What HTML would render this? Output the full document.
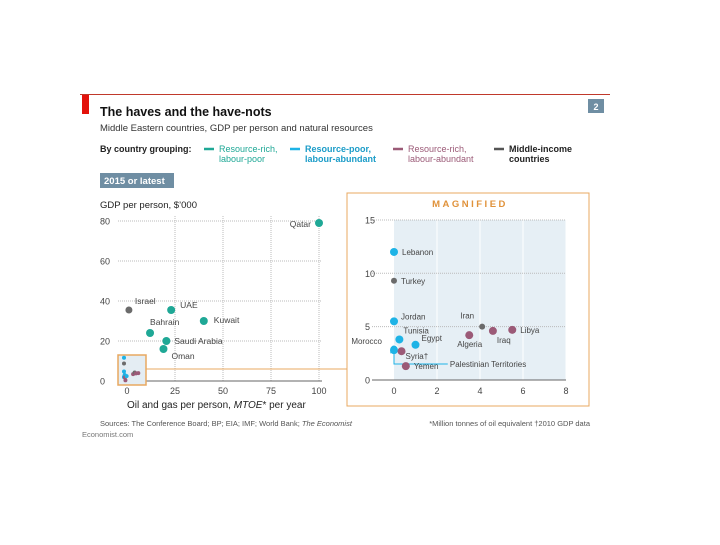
<!DOCTYPE html>
<html><head><meta charset="utf-8"><style>
body{margin:0;background:#fff;width:720px;height:540px;overflow:hidden;font-family:"Liberation Sans",sans-serif}
svg text{font-family:"Liberation Sans",sans-serif}
</style></head><body>
<svg id="c" width="720" height="540">
<line x1="80" y1="94.5" x2="610" y2="94.5" stroke="#c0392b" stroke-width="1"/>
<rect x="82" y="95" width="7" height="19" fill="#e3120b"/>
<text x="100" y="116" font-size="12.5" font-weight="bold" fill="#111">The haves and the have-nots</text>
<rect x="588" y="99" width="16" height="14" fill="#6f8ea3"/>
<text x="596" y="110" font-size="9" fill="#fff" text-anchor="middle" font-weight="bold">2</text>
<text x="100" y="131" font-size="9.5" fill="#333">Middle Eastern countries, GDP per person and natural resources</text>
<g font-size="9">
<text x="100" y="152" font-weight="bold" fill="#222">By country grouping:</text>
<line x1="204" y1="149" x2="214" y2="149" stroke="#1fa896" stroke-width="2.5"/>
<text x="219" y="152" fill="#1fa896"><tspan x="219">Resource-rich,</tspan><tspan x="219" dy="10">labour-poor</tspan></text>
<line x1="290" y1="149" x2="300" y2="149" stroke="#1db3e6" stroke-width="2.5"/>
<text x="305" y="152" fill="#1b9cc8" font-weight="bold"><tspan x="305">Resource-poor,</tspan><tspan x="305" dy="10">labour-abundant</tspan></text>
<line x1="393" y1="149" x2="403" y2="149" stroke="#9b5a77" stroke-width="2.5"/>
<text x="408" y="152" fill="#9b5a77"><tspan x="408">Resource-rich,</tspan><tspan x="408" dy="10">labour-abundant</tspan></text>
<line x1="494" y1="149" x2="504" y2="149" stroke="#555" stroke-width="2.5"/>
<text x="509" y="152" fill="#222" font-weight="bold"><tspan x="509">Middle-income</tspan><tspan x="509" dy="10">countries</tspan></text>
</g>
<rect x="100" y="173" width="74" height="15" fill="#6f8ea3"/>
<text x="104" y="184" font-size="9.5" fill="#fff" font-weight="bold">2015 or latest</text>
<text x="100" y="208" font-size="9.5" fill="#222">GDP per person, $’000</text>
<text x="127" y="408" font-size="10" fill="#222">Oil and gas per person, <tspan font-style="italic">MTOE</tspan>* per year</text>
<rect x="347" y="193" width="242" height="213" fill="none" stroke="#e8a860" stroke-width="1"/>
<text x="470" y="207" font-size="9.5" fill="#e0923a" text-anchor="middle" letter-spacing="2.5" font-weight="bold">MAGNIFIED</text>
<g id="main"></g>
<g id="mag"></g>
<text x="100" y="426" font-size="7.5" fill="#555">Sources: The Conference Board; BP; EIA; IMF; World Bank; <tspan font-style="italic">The Economist</tspan></text>
<text x="590" y="426" font-size="7.5" fill="#555" text-anchor="end">*Million tonnes of oil equivalent   †2010 GDP data</text>
<text x="82" y="437" font-size="7.5" fill="#777">Economist.com</text>
</svg>
<script>
const C={rp:'#1fa896',pa:'#1db3e6',ra:'#9b5a77',mi:'#6b6b6b'};
const mainNames=['Qatar','UAE','Israel','Kuwait','Bahrain','Saudi Arabia','Oman'];
const mainX=[100,23,1,40,12,20.5,19];
const mainY=[79,35.5,35.5,30,24,20,16];
const mainGroup=['rp','rp','mi','rp','rp','rp','rp'];
const mainXTicks=[0,25,50,75,100];
const mainYTicks=[0,20,40,60,80];
const magNames=['Lebanon','Turkey','Jordan','Tunisia','Morocco','Palestinian Territories','Syria†','Egypt','Yemen','Algeria','Iran','Iraq','Libya'];
const magX=[0,0,0,0.25,0,0,0.35,1,0.55,3.5,4.1,4.6,5.5];
const magY=[12,9.3,5.5,3.8,2.9,2.8,2.7,3.3,1.3,4.2,5,4.6,4.7];
const magGroup=['pa','mi','pa','pa','pa','pa','ra','pa','ra','ra','mi','ra','ra'];
const magXTicks=[0,2,4,6,8];
const magYTicks=[0,5,10,15];
const NS='http://www.w3.org/2000/svg';
function mk(p,t,a){const e=document.createElementNS(NS,t);for(const k in a)e.setAttribute(k,a[k]);p.appendChild(e);return e;}
const mx=v=>127+v*1.92, my=v=>381-v*2;
const qx=v=>394+v*21.5, qy=v=>380-v*10.67;
const g=document.getElementById('main'), h=document.getElementById('mag');
// main grid
mainXTicks.forEach(t=>{
 if(t>0){const l=mk(g,'line',{x1:mx(t),x2:mx(t),y1:my(0),y2:215,stroke:'#bbb','stroke-dasharray':'1,1'});
 
 }
 const tx=mk(g,'text',{x:mx(t),y:394,'font-size':9,fill:'#444','text-anchor':'middle'});tx.textContent=t;
 
 
});
mainYTicks.forEach(t=>{
 const l=mk(g,'line',{x1:118,x2:322,y1:my(t),y2:my(t),stroke:t?'#bbb':'#666','stroke-dasharray':t?'1,1':'none'});
 
 
 const tx=mk(g,'text',{x:100,y:my(t)+3.5,'font-size':9,fill:'#444'});tx.textContent=t;
 
 
});
const box=mk(g,'rect',{x:118,y:355,width:28,height:30,fill:'#e4edf3',stroke:'#e8a860','stroke-width':1.5});


const con=mk(g,'line',{x1:146,x2:347,y1:369,y2:369,stroke:'#e8a860'});


// tiny marks in box from magnified data
magX.forEach((v,i)=>{const c=mk(g,'circle',{cx:124+v*2.6,cy:383-magY[i]*2.1,r:2,fill:C[magGroup[i]]});
 
 });
const mainLab={Qatar:[-4,4,'end'],UAE:[5,-2,'start'],Israel:[2,-6,'start'],Kuwait:[6,2,'start'],Bahrain:[-4,-8,'start'],'Saudi Arabia':[4,3,'start'],Oman:[4,10,'start']};
mainX.forEach((v,i)=>{
 const c=mk(g,'circle',{cx:mx(v),cy:my(mainY[i]),r:mainGroup[i]=='mi'?3.5:4,fill:C[mainGroup[i]]});
 
 
 const L=mainLab[mainNames[i]];
 const t=mk(g,'text',{x:mx(v)+L[0]+(L[2]=='start'?4:-4),y:my(mainY[i])+L[1],'font-size':8.5,fill:'#444','text-anchor':L[2]});t.textContent=mainNames[i];
 
 
});
// magnified
const bg=mk(h,'rect',{x:qx(0),y:qy(15),width:qx(8)-qx(0),height:qy(0)-qy(15),fill:'#e6eff5'});


magXTicks.forEach(t=>{
 if(t>0){const l=mk(h,'line',{x1:qx(t),x2:qx(t),y1:qy(0),y2:qy(15),stroke:'#fff'});
 
 }
 const tx=mk(h,'text',{x:qx(t),y:394,'font-size':9,fill:'#444','text-anchor':'middle'});tx.textContent=t;
 
 
});
magYTicks.forEach(t=>{
 const l=mk(h,'line',{x1:372,x2:qx(8),y1:qy(t),y2:qy(t),stroke:t?'#bbb':'#666','stroke-dasharray':t?'1,1':'none'});
 
 
 const tx=mk(h,'text',{x:365,y:qy(t)+3.5,'font-size':9,fill:'#444'});tx.textContent=t;
 
 
});
const pal=mk(h,'polyline',{points:`${qx(0)},${qy(2.8)} ${qx(0)},${qy(1.5)} ${qx(2.5)},${qy(1.5)}`,fill:'none',stroke:'#1db3e6'});


const mor=mk(h,'polyline',{points:`${qx(-0.15)},${qy(3.1)} ${qx(-0.15)},${qy(2.5)}`,fill:'none',stroke:'#1db3e6'});


const magLab={'Lebanon':[8,3,'start'],'Turkey':[7,3,'start'],'Jordan':[7,-2,'start'],'Tunisia':[4,-6,'start'],'Morocco':[-12,-5,'end'],'Palestinian Territories':[null],'Syria†':[4,8,'start'],'Egypt':[6,-4,'start'],'Yemen':[8,3,'start'],'Algeria':[-12,12,'start'],'Iran':[-8,-8,'end'],'Iraq':[4,12,'start'],'Libya':[8,3,'start']};
magX.forEach((v,i)=>{
 const grp=magGroup[i];
 const c=mk(h,'circle',{cx:qx(v),cy:qy(magY[i]),r:grp=='mi'?3:4,fill:C[grp],stroke:magNames[i]=='Morocco'?'#fff':'none'});
 
 
 const L=magLab[magNames[i]];
 if(L[0]===null){const t=mk(h,'text',{x:qx(2.6),y:qy(1.5)+3,'font-size':8,fill:'#444'});t.textContent=magNames[i];
  
  return;}
 const t=mk(h,'text',{x:qx(v)+L[0],y:qy(magY[i])+L[1],'font-size':8,fill:'#444','text-anchor':L[2]});t.textContent=magNames[i];
 
 
});
</script>
</body></html>
